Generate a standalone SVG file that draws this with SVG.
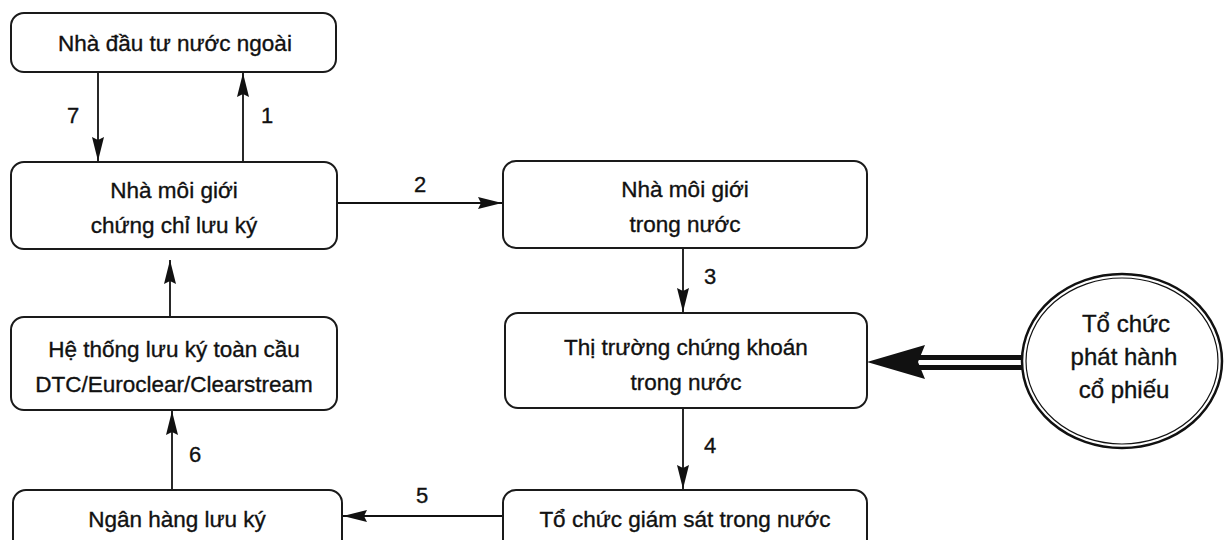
<svg xmlns="http://www.w3.org/2000/svg" width="1229" height="540" viewBox="0 0 1229 540">
<defs>
<style>
.box{fill:#fff;stroke:#1a1a1a;stroke-width:2}
.t{font-family:"Liberation Sans",Arial,sans-serif;font-size:22.5px;fill:#111;stroke:#111;stroke-width:0.35;text-anchor:middle}
.e{font-family:"Liberation Sans",Arial,sans-serif;font-size:24px;fill:#111;stroke:#111;stroke-width:0.35;text-anchor:middle}
.n{font-family:"Liberation Sans",Arial,sans-serif;font-size:22px;fill:#111;stroke:#111;stroke-width:0.35;text-anchor:middle}
.c{stroke:#111;stroke-width:1.8;fill:none}
.dbl{stroke:#111;stroke-width:5;fill:none}
</style>
<marker id="ah" markerUnits="userSpaceOnUse" viewBox="0 0 24 12" refX="24" refY="6" markerWidth="24" markerHeight="12" orient="auto">
<path d="M0,0 L24,6 L0,12 L3,6 z" fill="#111"/>
</marker>
</defs>
<rect width="1229" height="540" fill="#fff"/>

<g id="connectors">
<line class="c" x1="98" y1="72" x2="98" y2="161" marker-end="url(#ah)"/>
<line class="c" x1="243" y1="162" x2="243" y2="73" marker-end="url(#ah)"/>
<line class="c" x1="337" y1="203" x2="502" y2="203" marker-end="url(#ah)"/>
<line class="c" x1="683" y1="248" x2="683" y2="312" marker-end="url(#ah)"/>
<line class="c" x1="683" y1="408" x2="683" y2="489" marker-end="url(#ah)"/>
<line class="c" x1="503" y1="516" x2="343" y2="516" marker-end="url(#ah)"/>
<line class="c" x1="172" y1="490" x2="172" y2="411" marker-end="url(#ah)"/>
<line class="c" x1="170" y1="317" x2="170" y2="260" marker-end="url(#ah)"/>
<line class="dbl" x1="916" y1="357.5" x2="1024" y2="357.5"/>
<line class="dbl" x1="916" y1="367.5" x2="1024" y2="367.5"/>
<polygon points="867,362 925,345 918,362 925,379" fill="#111"/>
<text class="n" x="73" y="123">7</text>
<text class="n" x="267" y="123">1</text>
<text class="n" x="420" y="192">2</text>
<text class="n" x="710" y="284">3</text>
<text class="n" x="710" y="453">4</text>
<text class="n" x="422" y="503">5</text>
<text class="n" x="195" y="462">6</text>
</g>

<g id="node-nha-dau-tu">
<rect class="box" x="11" y="13" width="325" height="59" rx="13"/>
<text class="t" x="175" y="51">Nhà đầu tư nước ngoài</text>
</g>

<g id="node-moi-gioi-ccl">
<rect class="box" x="11" y="162" width="326" height="87" rx="13"/>
<text class="t" x="174" y="198">Nhà môi giới</text>
<text class="t" x="174" y="233">chứng chỉ lưu ký</text>
</g>

<g id="node-moi-gioi-tn">
<rect class="box" x="503" y="161" width="364" height="87" rx="13"/>
<text class="t" x="685" y="197">Nhà môi giới</text>
<text class="t" x="685" y="232">trong nước</text>
</g>

<g id="node-he-thong">
<rect class="box" x="11" y="317" width="326" height="93" rx="13"/>
<text class="t" x="174" y="357">Hệ thống lưu ký toàn cầu</text>
<text class="t" x="174" y="392">DTC/Euroclear/Clearstream</text>
</g>

<g id="node-thi-truong">
<rect class="box" x="505" y="313" width="362" height="95" rx="13"/>
<text class="t" x="686" y="355">Thị trường chứng khoán</text>
<text class="t" x="686" y="390">trong nước</text>
</g>

<g id="node-ngan-hang">
<rect class="box" x="13" y="490" width="329" height="62" rx="13"/>
<text class="t" x="177" y="527">Ngân hàng lưu ký</text>
</g>

<g id="node-giam-sat">
<rect class="box" x="503" y="490" width="364" height="62" rx="13"/>
<text class="t" x="685" y="527">Tổ chức giám sát trong nước</text>
</g>

<g id="node-to-chuc-phat-hanh">
<ellipse cx="1122" cy="361" rx="100" ry="87" fill="#fff" stroke="#111" stroke-width="2.5"/>
<ellipse cx="1122" cy="361" rx="96" ry="83" fill="none" stroke="#111" stroke-width="1.2"/>
<text class="e" x="1126" y="332">Tổ chức</text>
<text class="e" x="1124" y="365">phát hành</text>
<text class="e" x="1124" y="398">cổ phiếu</text>
</g>
</svg>
